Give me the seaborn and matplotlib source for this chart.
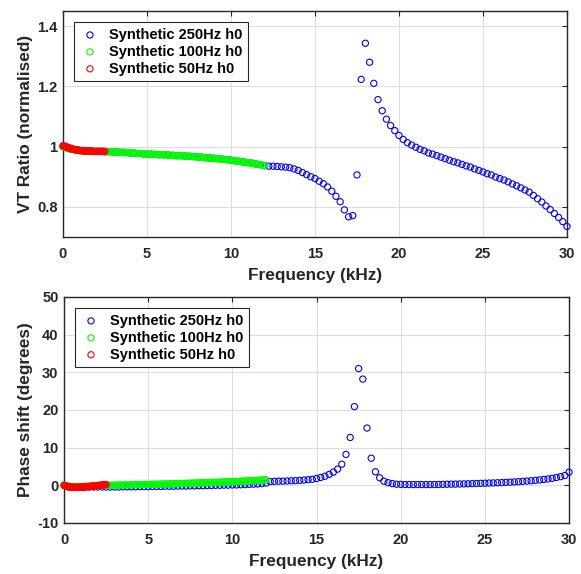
import numpy as np
import matplotlib.pyplot as plt
from matplotlib.ticker import FormatStrFormatter
import seaborn as sns

# frequency grids (kHz) of the three synthetic sweeps
freq_250 = np.arange(121) * 0.25
freq_100 = np.arange(121) * 0.1
freq_50 = np.arange(51) * 0.05

labels = ['Synthetic 250Hz h0', 'Synthetic 100Hz h0', 'Synthetic 50Hz h0']

# VT ratio (normalised)
vt_250 = [
    1.000, 0.995, 0.991, 0.989, 0.987, 0.986, 0.985, 0.985, 0.984, 0.984,
    0.983, 0.983, 0.982, 0.982, 0.981, 0.980, 0.979, 0.978, 0.977, 0.976,
    0.975, 0.975, 0.974, 0.973, 0.973, 0.972, 0.971, 0.970, 0.970, 0.969,
    0.968, 0.967, 0.966, 0.965, 0.963, 0.962, 0.961, 0.960, 0.958, 0.957,
    0.955, 0.953, 0.951, 0.949, 0.947, 0.945, 0.942, 0.940, 0.937, 0.935,
    0.935, 0.934, 0.933, 0.932, 0.930, 0.926, 0.921, 0.914, 0.907, 0.900,
    0.894, 0.885, 0.877, 0.866, 0.852, 0.835, 0.817, 0.790, 0.767, 0.771,
    0.906, 1.223, 1.343, 1.280, 1.210, 1.156, 1.119, 1.091, 1.070, 1.053,
    1.037, 1.024, 1.013, 1.005, 0.998, 0.991, 0.986, 0.979, 0.975, 0.970,
    0.965, 0.960, 0.955, 0.950, 0.946, 0.941, 0.936, 0.932, 0.926, 0.921,
    0.916, 0.910, 0.906, 0.899, 0.894, 0.889, 0.883, 0.876, 0.870, 0.863,
    0.856, 0.849, 0.838, 0.827, 0.816, 0.803, 0.791, 0.778, 0.765, 0.751,
    0.735,
]
vt_100 = [
    1.000, 0.998, 0.996, 0.994, 0.992, 0.991, 0.990, 0.989, 0.988, 0.987,
    0.987, 0.986, 0.986, 0.986, 0.985, 0.985, 0.985, 0.985, 0.985, 0.984,
    0.984, 0.984, 0.984, 0.984, 0.984, 0.983, 0.983, 0.983, 0.983, 0.983,
    0.982, 0.982, 0.982, 0.982, 0.981, 0.981, 0.981, 0.981, 0.980, 0.980,
    0.979, 0.979, 0.979, 0.978, 0.978, 0.977, 0.977, 0.977, 0.976, 0.976,
    0.975, 0.975, 0.975, 0.975, 0.974, 0.974, 0.974, 0.973, 0.973, 0.973,
    0.973, 0.972, 0.972, 0.972, 0.971, 0.971, 0.971, 0.970, 0.970, 0.970,
    0.970, 0.969, 0.969, 0.969, 0.968, 0.968, 0.968, 0.967, 0.967, 0.966,
    0.966, 0.965, 0.965, 0.964, 0.964, 0.963, 0.963, 0.962, 0.962, 0.961,
    0.961, 0.960, 0.960, 0.959, 0.959, 0.958, 0.957, 0.957, 0.956, 0.956,
    0.955, 0.954, 0.953, 0.953, 0.952, 0.951, 0.950, 0.949, 0.948, 0.947,
    0.947, 0.946, 0.945, 0.944, 0.943, 0.942, 0.941, 0.940, 0.939, 0.938,
    0.937,
]
vt_50 = [
    1.003, 1.002, 1.001, 1.000, 0.999, 0.998, 0.997, 0.996, 0.995, 0.994,
    0.993, 0.992, 0.992, 0.991, 0.990, 0.990, 0.989, 0.989, 0.988, 0.988,
    0.987, 0.987, 0.987, 0.986, 0.986, 0.986, 0.986, 0.986, 0.985, 0.985,
    0.985, 0.985, 0.985, 0.985, 0.985, 0.984, 0.984, 0.984, 0.984, 0.984,
    0.984, 0.984, 0.984, 0.984, 0.984, 0.984, 0.984, 0.984, 0.984, 0.984,
    0.984,
]

# phase shift (degrees)
ph_250 = [
    0.00, -0.30, -0.40, -0.45, -0.45, -0.45, -0.45, -0.45, -0.45, -0.45,
    -0.45, -0.45, -0.45, -0.45, -0.40, -0.40, -0.40, -0.40, -0.35, -0.35,
    -0.35, -0.30, -0.30, -0.30, -0.25, -0.25, -0.25, -0.20, -0.20, -0.20,
    -0.15, -0.15, -0.10, -0.10, -0.05, -0.05, 0.00, 0.00, 0.05, 0.05,
    0.10, 0.10, 0.15, 0.20, 0.25, 0.30, 0.35, 0.45, 0.60, 1.00,
    1.05, 1.10, 1.10, 1.15, 1.20, 1.25, 1.30, 1.40, 1.50, 1.60,
    1.80, 2.10, 2.40, 2.90, 3.50, 4.30, 5.60, 8.20, 12.7, 20.9,
    31.0, 28.2, 15.2, 7.20, 3.60, 2.00, 1.10, 0.70, 0.45, 0.30,
    0.25, 0.20, 0.20, 0.20, 0.20, 0.20, 0.20, 0.20, 0.20, 0.22,
    0.25, 0.28, 0.30, 0.32, 0.35, 0.38, 0.40, 0.45, 0.48, 0.52,
    0.55, 0.60, 0.63, 0.68, 0.72, 0.78, 0.83, 0.90, 0.97, 1.05,
    1.13, 1.22, 1.32, 1.43, 1.55, 1.70, 1.87, 2.07, 2.30, 2.60,
    3.50,
]
ph_100 = [
    0.00, -0.10, -0.20, -0.25, -0.30, -0.30, -0.30, -0.30, -0.30, -0.30,
    -0.30, -0.30, -0.30, -0.25, -0.25, -0.25, -0.20, -0.20, -0.20, -0.15,
    -0.15, -0.10, -0.10, -0.10, -0.05, -0.05, 0.00, 0.00, 0.00, 0.02,
    0.03, 0.04, 0.05, 0.06, 0.07, 0.08, 0.09, 0.10, 0.11, 0.12,
    0.13, 0.14, 0.15, 0.16, 0.17, 0.18, 0.19, 0.20, 0.21, 0.22,
    0.23, 0.24, 0.26, 0.27, 0.28, 0.29, 0.30, 0.32, 0.33, 0.34,
    0.35, 0.37, 0.38, 0.39, 0.41, 0.42, 0.43, 0.45, 0.46, 0.47,
    0.49, 0.50, 0.52, 0.53, 0.55, 0.56, 0.58, 0.59, 0.61, 0.62,
    0.64, 0.65, 0.67, 0.69, 0.70, 0.72, 0.74, 0.75, 0.77, 0.79,
    0.80, 0.82, 0.84, 0.86, 0.88, 0.89, 0.91, 0.93, 0.95, 0.97,
    0.99, 1.01, 1.03, 1.05, 1.07, 1.09, 1.11, 1.13, 1.16, 1.18,
    1.20, 1.22, 1.25, 1.27, 1.30, 1.32, 1.35, 1.38, 1.41, 1.44,
    1.48,
]
ph_50 = [
    0.00, -0.10, -0.20, -0.28, -0.34, -0.40, -0.44, -0.47, -0.50, -0.52,
    -0.53, -0.54, -0.55, -0.55, -0.55, -0.55, -0.54, -0.53, -0.52, -0.51,
    -0.50, -0.48, -0.47, -0.45, -0.43, -0.41, -0.39, -0.37, -0.35, -0.33,
    -0.31, -0.29, -0.27, -0.25, -0.22, -0.20, -0.18, -0.15, -0.13, -0.10,
    -0.08, -0.05, -0.03, 0.00, 0.03, 0.06, 0.09, 0.12, 0.15, 0.18,
    0.21,
]

colors = ['#0000ff', '#00ff00', '#ff0000']
dark = '#262626'

sns.set_theme(style='whitegrid')
plt.rcParams['font.family'] = ['Liberation Sans', 'DejaVu Sans']
plt.rcParams['font.weight'] = 'bold'
plt.rcParams['axes.labelweight'] = 'bold'
plt.rcParams['axes.unicode_minus'] = False

fig = plt.figure(figsize=(5.81, 5.74), dpi=100)
ax1 = fig.add_axes([0.1084, 0.5871, 0.8675, 0.3937])
ax2 = fig.add_axes([0.1102, 0.0889, 0.8692, 0.3937])


def draw(ax, series, ylabel):
    freqs = [freq_250, freq_100, freq_50]
    for f, y, c, lab in zip(freqs, series, colors, labels):
        sns.scatterplot(x=f, y=y, ax=ax, marker='o', s=20, color=c,
                        facecolor='none', edgecolor=c, linewidth=0.8,
                        label=lab, zorder=3, clip_on=False)
    ax.set_xlim(0, 30)
    ax.set_xticks(range(0, 31, 5))
    ax.grid(True, color='#dedede', linewidth=0.8)
    for sp in ax.spines.values():
        sp.set_color(dark)
        sp.set_linewidth(1.0)
    ax.tick_params(direction='in', length=3.5, width=0.8, top=True, right=True,
                   colors=dark, labelsize=10.5)
    ax.tick_params(axis='x', pad=7.5)
    ax.tick_params(axis='y', pad=4)
    ax.set_xlabel('Frequency (kHz)', fontsize=12.4, color=dark, labelpad=5)
    ax.set_ylabel(ylabel, fontsize=12.4, color=dark, labelpad=3)
    leg = ax.legend(loc='upper left', fontsize=10.5, frameon=True, fancybox=False,
                    edgecolor=dark, framealpha=1, borderaxespad=0.75,
                    borderpad=0.4, labelspacing=0.2, handlelength=1.4,
                    handletextpad=0.6, scatterpoints=1)
    leg.get_frame().set_linewidth(0.8)
    leg.set_zorder(5)
    for t in leg.get_texts():
        t.set_color('black')


draw(ax1, [vt_250, vt_100, vt_50], 'VT Ratio (normalised)')
ax1.set_ylim(0.7, 1.45)
ax1.set_yticks([0.8, 1.0, 1.2, 1.4])
ax1.yaxis.set_major_formatter(FormatStrFormatter('%g'))

draw(ax2, [ph_250, ph_100, ph_50], 'Phase shift (degrees)')
ax2.set_ylim(-10, 50)
ax2.set_yticks(range(-10, 51, 10))

fig.savefig('out.png', dpi=100)
